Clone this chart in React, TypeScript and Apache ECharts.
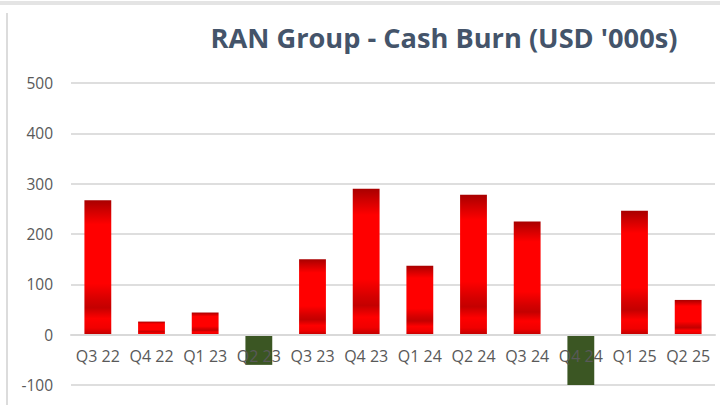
import React, { useEffect, useRef } from "react";
import * as echarts from "echarts";

const categories = ["Q3 22", "Q4 22", "Q1 23", "Q2 23", "Q3 23", "Q4 23", "Q1 24", "Q2 24", "Q3 24", "Q4 24", "Q1 25", "Q2 25"];
const cashBurn = [267, 26, 44, -60, 150, 290, 137, 278, 225, -103, 246, 69];
const yTicks = { min: -100, max: 500, interval: 100 };

const redGradient = () =>
  new echarts.graphic.LinearGradient(0, 0, 0, 1, [
    { offset: 0, color: "#a80000" },
    { offset: 0.08, color: "#d00000" },
    { offset: 0.18, color: "#ff0000" },
    { offset: 0.62, color: "#ff0000" },
    { offset: 0.74, color: "#d40000" },
    { offset: 0.8, color: "#c40000" },
    { offset: 0.88, color: "#ff0000" },
    { offset: 0.95, color: "#f00000" },
    { offset: 1, color: "#c00000" },
  ]);

export default function App() {
  const ref = useRef<HTMLDivElement>(null);
  useEffect(() => {
    if (!ref.current) return;
    const chart = echarts.init(ref.current, null, { renderer: "svg" });
    chart.setOption({
      animation: false,
      backgroundColor: "#ffffff",
      title: {
        text: "RAN Group - Cash Burn (USD '000s)",
        left: 439,
        textAlign: "center",
        top: 19,
        textStyle: { fontFamily: "Open Sans", fontWeight: 700, fontSize: 27.2, color: "#44546a" },
      },
      graphic: [
        { type: "rect", shape: { x: 0, y: 1, width: 720, height: 4 }, style: { fill: "#e4e4e4" }, silent: true },
        { type: "rect", shape: { x: 6, y: 13, width: 2, height: 392 }, style: { fill: "#dcdcdc" }, silent: true },
      ],
      grid: { left: 71, right: 5, top: 83, bottom: 20, containLabel: false, outerBoundsMode: "none" },
      xAxis: {
        type: "category",
        data: categories,
        z: 10,
        offset: -50.3,
        axisLine: { show: true, onZero: false, lineStyle: { color: "#d9d9d9", width: 2 } },
        axisTick: { show: false },
        axisLabel: { interval: 0, hideOverlap: false, color: "#595959", fontFamily: "Open Sans", fontSize: 16, margin: 13 },
      },
      yAxis: {
        type: "value",
        min: yTicks.min,
        max: yTicks.max,
        interval: yTicks.interval,
        axisLine: { show: false },
        axisTick: { show: false },
        splitLine: { lineStyle: { color: "#dedede", width: 2 } },
        axisLabel: { color: "#595959", fontFamily: "Open Sans", fontSize: 15.5, margin: 18 },
      },
      series: [
        {
          type: "bar",
          data: cashBurn.map((v) => ({
            value: v,
            itemStyle: { color: v < 0 ? "#3b5623" : redGradient() },
          })),
          barCategoryGap: "50%",
        },
      ],
    });
    return () => chart.dispose();
  }, []);
  return <div ref={ref} style={{ position: "fixed", left: 0, top: 0, width: 720, height: 405 }} />;
}
